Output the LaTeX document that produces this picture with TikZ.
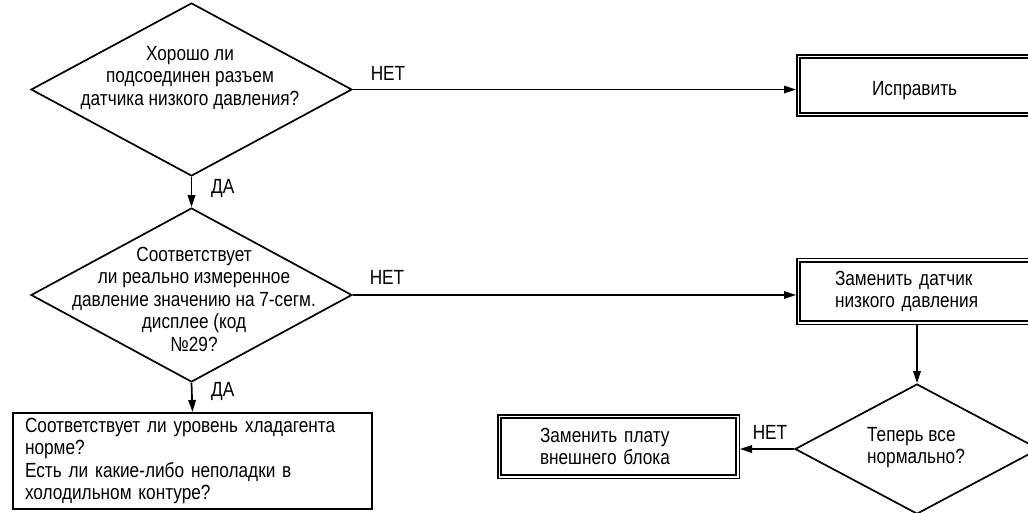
\documentclass[tikz,border=0pt]{standalone}
\usepackage{fontspec}
\setmainfont[FakeStretch=0.84]{Liberation Sans}
\usetikzlibrary{shapes.geometric,arrows.meta}
\begin{document}
\begin{tikzpicture}[x=1pt,y=-1pt,
  every node/.style={font=\fontsize{20.5}{22.5}\selectfont},
  ln/.style={line width=1.7pt},
  arr/.style={ln,-{Triangle[length=12pt,width=7.5pt]}},
  dia/.style={draw,ln,diamond,inner sep=0pt},
  dbox/.style={draw,line width=1.5pt,double=white,double distance=1.8pt,outer sep=2.4pt,rectangle,inner ysep=0pt,align=left},
  sbox/.style={draw,ln,rectangle,align=left,inner ysep=0pt},
  lbl/.style={inner sep=0pt}]
\clip (0,0) rectangle (1028,512);
\fill[white] (0,0) rectangle (1028,512);

% decisions
\node[dia,minimum width=321pt,minimum height=173pt] (d1) at (191.5,89.5) {};
\node[lbl,align=center] (t1) at (190,77.5) {Хорошо ли\\подсоединен разъем\\датчика низкого давления?};

\node[dia,minimum width=321pt,minimum height=174pt] (d2) at (191.5,295) {};
\node[lbl,align=center] (t2) at (194,299) {Соответствует\\ли реально измеренное\\давление значению на 7-сегм.\\дисплее (код\\№29?};

\node[dia,minimum width=244pt,minimum height=130pt] (d3) at (917,449) {};
\node[lbl,align=left] (t3) at (916,447.5) {Теперь все\\нормально?};

% boxes
\node[dbox,anchor=west,minimum height=58pt,inner xsep=73.6pt,text width=110pt,text height=24pt,text depth=4pt] (b1) at (796,85.5) {Исправить};
\node[dbox,anchor=west,minimum height=62.4pt,inner xsep=36.6pt,text width=180pt] (b2) at (796,291.5) {Заменить датчик\\низкого давления};
\node[dbox,minimum height=60.2pt,inner xsep=40.6pt,text width=157pt] (b3) at (618.5,446.5) {Заменить плату\\внешнего блока};
\node[sbox,minimum height=96.4pt,inner xsep=12.1pt,text width=335pt] (b4) at (192.5,461) {Соответствует ли уровень хладагента\\норме?\\Есть ли какие-либо неполадки в\\холодильном контуре?};

% connectors
\draw[arr] (d1.south) -- (d2.north);
\draw[arr] (d2.south) -- (b4.north);
\draw[arr] (d1.east) -- (d1.east -| b1.west);
\draw[arr] (d2.east) -- (d2.east -| b2.west);
\draw[arr] (d3.north |- b2.south) -- (d3.north);
\draw[arr] (d3.west) -- (d3.west -| b3.east);

% labels
\node[lbl,anchor=west] (y1) at (211,188) {ДА};
\node[lbl,anchor=west] (y2) at (211,391) {ДА};
\node[lbl] (n1) at (388,73) {НЕТ};
\node[lbl] (n2) at (387,277.5) {НЕТ};
\node[lbl] (n3) at (770,432.5) {НЕТ};
\end{tikzpicture}
\end{document}
